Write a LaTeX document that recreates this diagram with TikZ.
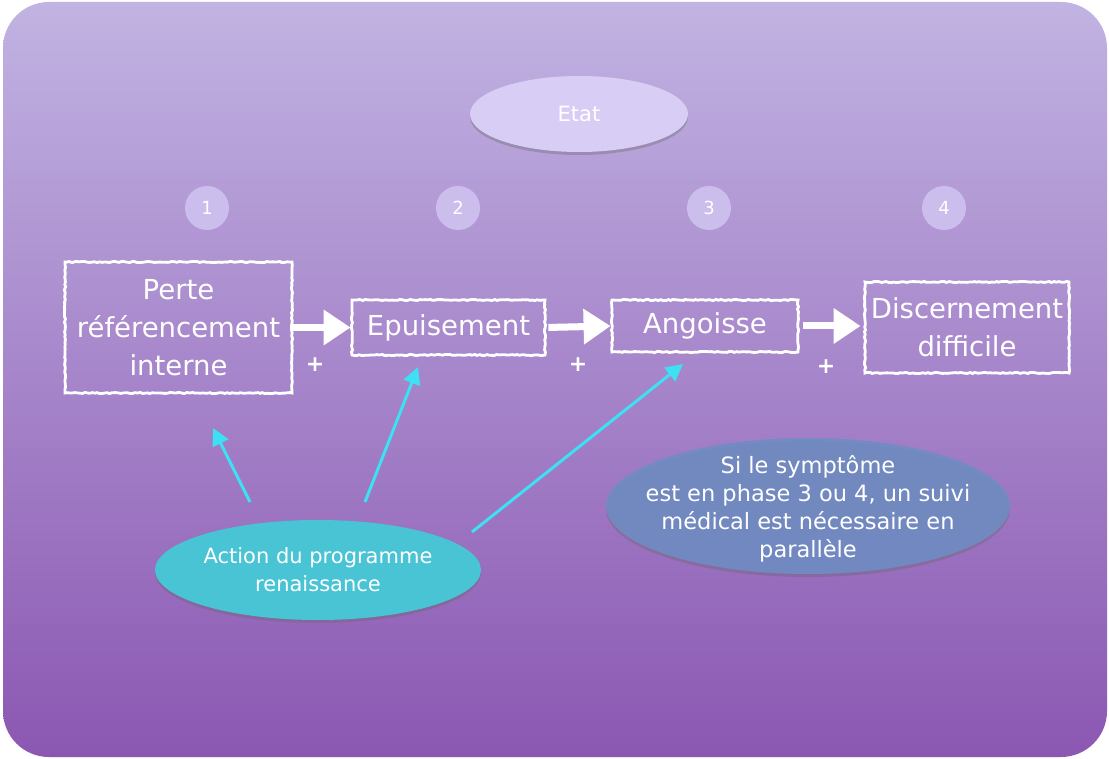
\documentclass[tikz,border=0pt]{standalone}
\usepackage{fontspec}
\setmainfont{DejaVu Sans}
\usetikzlibrary{shapes.geometric,arrows.meta,shadows,decorations.pathmorphing}
\definecolor{bgtop}{RGB}{193,179,226}
\definecolor{bgbot}{RGB}{139,87,178}
\definecolor{etatfill}{RGB}{216,205,245}
\definecolor{numfill}{RGB}{204,190,236}
\definecolor{actfill}{RGB}{72,196,212}
\definecolor{sifill}{RGB}{112,140,196}
\definecolor{cyanarrow}{RGB}{62,224,244}
\tikzset{
  chalkbox/.style={draw=white, line width=2.8pt, text=white, align=center,
    font=\fontsize{27.5}{38}\selectfont, inner xsep=0pt, inner ysep=4pt,
    decorate, decoration={random steps, segment length=2.5pt, amplitude=0.6pt}},
  bigarrow/.style={white, line width=7pt, -{Triangle[length=27pt,width=34pt]}},
  cyarrow/.style={cyanarrow, line width=3pt, -{Triangle[length=17pt,width=17pt]}},
  numdisc/.style={circle, fill=numfill, minimum size=44pt, inner sep=0pt,
    text=white, font=\fontsize{18}{20}\selectfont},
  plus/.style={text=white, font=\bfseries\fontsize{22}{24}\selectfont, inner sep=0pt},
  blob/.style={ellipse, inner sep=0pt, drop shadow={shadow xshift=0pt, shadow yshift=-3pt, opacity=0.35, fill=black!60}},
  blobtext/.style={text=white, align=center, inner sep=0pt},
}
\begin{document}
\begin{tikzpicture}[x=1pt,y=-1pt]
\useasboundingbox (0,0) rectangle (1109,759);
\fill[white] (0,0) rectangle (1109,759);
\shade[top color=bgtop, bottom color=bgbot, rounded corners=46pt] (3,2) rectangle (1107,757);

\node[blob, fill=etatfill, minimum width=218pt, minimum height=76pt] (etat) at (579,114) {};
\node[blobtext, font=\fontsize{21}{24}\selectfont] (etattext) at (etat.center) {Etat};

\node[numdisc] (n1) at (207,208) {1};
\node[numdisc] (n2) at (458,208) {2};
\node[numdisc] (n3) at (709,208) {3};
\node[numdisc] (n4) at (944,208) {4};

\node[chalkbox, minimum width=227pt, minimum height=131pt] (b1) at (178.5,327.5) {Perte\\référencement\\interne};
\node[chalkbox, minimum width=193pt, minimum height=55pt] (b2) at (448.5,327.5) {Epuisement};
\node[chalkbox, minimum width=186pt, minimum height=52pt] (b3) at (705,326) {Angoisse};
\node[chalkbox, minimum width=204pt, minimum height=91pt] (b4) at (967,327.5) {Discernement\\difficile};

\draw[bigarrow] (b1.east) -- (b2.west);
\draw[bigarrow, shorten <=2pt] (b2.east) -- (b3.west);
\draw[bigarrow, shorten <=4pt, shorten >=3pt] (b3.east) -- (b4.west |- b3.east);

\node[plus] (p1) at (315,365) {+};
\node[plus] (p2) at (578,365) {+};
\node[plus] (p3) at (826,367) {+};

\node[blob, fill=actfill, minimum width=326pt, minimum height=100pt] (act) at (318,570) {};
\node[blobtext, font=\fontsize{21}{28}\selectfont] (acttext) at (act.center) {Action du programme\\renaissance};

\node[blob, fill=sifill, fill opacity=0.9, minimum width=404pt, minimum height=136pt] (si) at (808,506) {};
\node[blobtext, font=\fontsize{22.5}{28}\selectfont] (sitext) at ([yshift=-3pt]si.center)
  {Si le symptôme\\est en phase 3 ou 4, un suivi\\médical est nécessaire en\\parallèle};

\coordinate (a1s) at (250,502);
\coordinate (a1e) at (213,428);
\coordinate (a2s) at (365,502);
\coordinate (a2e) at (418,367);
\coordinate (a3s) at (472,532);
\coordinate (a3e) at (683,364);
\draw[cyarrow] (a1s) -- (a1e);
\draw[cyarrow] (a2s) -- (a2e);
\draw[cyarrow] (a3s) -- (a3e);
\end{tikzpicture}
\end{document}
